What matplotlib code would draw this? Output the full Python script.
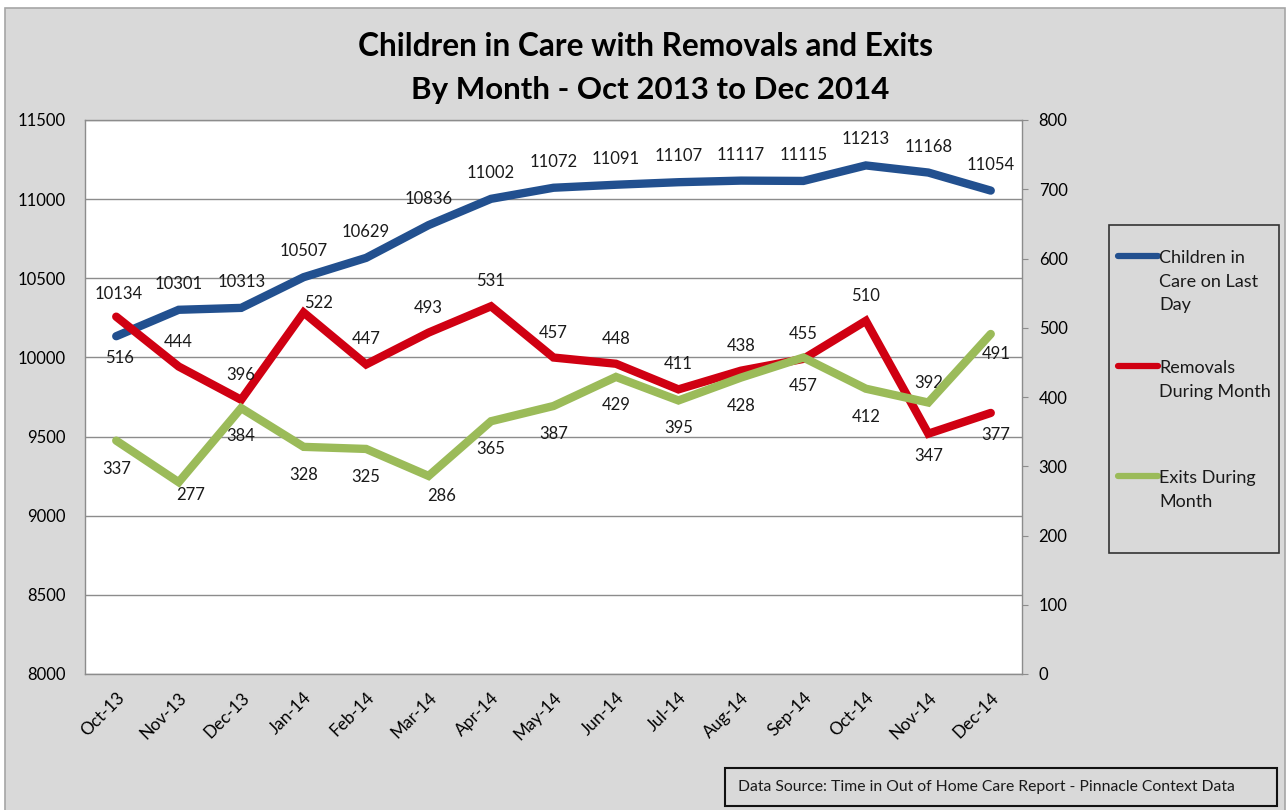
import matplotlib.pyplot as plt
from matplotlib.patches import Rectangle
from matplotlib.lines import Line2D

plt.rcParams['font.family'] = ['Lato', 'DejaVu Sans']

months = ['Oct-13', 'Nov-13', 'Dec-13', 'Jan-14', 'Feb-14', 'Mar-14', 'Apr-14',
          'May-14', 'Jun-14', 'Jul-14', 'Aug-14', 'Sep-14', 'Oct-14', 'Nov-14', 'Dec-14']
in_care = [10134, 10301, 10313, 10507, 10629, 10836, 11002, 11072,
           11091, 11107, 11117, 11115, 11213, 11168, 11054]
removals = [516, 444, 396, 522, 447, 493, 531, 457, 448, 411, 438, 455, 510, 347, 377]
exits = [337, 277, 384, 328, 325, 286, 365, 387, 429, 395, 428, 457, 412, 392, 491]

series_names = ['Children in\nCare on Last\nDay', 'Removals\nDuring Month', 'Exits During\nMonth']

BLUE = '#22508f'
RED = '#d00012'
GREEN = '#9bbb59'
BG = '#d9d9d9'

# label offsets in pixels (dx, dy), default above / below the point
care_off = [(0, 26)] * 15
care_off[0] = (2, 42)
rem_off = [(0, 25)] * 15
rem_off[0] = (3, -41)
rem_off[3] = (15, 10)
rem_off[13] = (0, -22)
rem_off[14] = (5, -22)
exit_off = [(0, -28)] * 15
exit_off[1] = (12, -13)
exit_off[5] = (13, -20)
exit_off[13] = (0, 20)
exit_off[14] = (5, -20)

W, H = 1287, 810
fig = plt.figure(figsize=(W / 100, H / 100), dpi=100, facecolor='white')

# chart area background and frame
fig.patches.append(Rectangle((5 / W, -0.01), (W - 7) / W, 1 - 8 / H + 0.01,
                             transform=fig.transFigure, facecolor=BG,
                             edgecolor='#a6a6a6', lw=1.2, zorder=-5))

ax = fig.add_axes([85 / W, 1 - 674 / H, (1022 - 85) / W, (674 - 120) / H])
ax2 = ax.twinx()
x = list(range(len(months)))

ax.set_facecolor('white')
ax.plot(x, in_care, color=BLUE, lw=6, solid_capstyle='round', solid_joinstyle='miter', zorder=3)
ax.set_ylim(8000, 11500)
ax.set_yticks(range(8000, 11501, 500))
ax.set_xlim(-0.5, len(months) - 0.5)
ax.set_xticks(x)
ax.set_xticklabels(months, rotation=45, ha='right', va='top', rotation_mode='anchor', fontsize=12.3)
ax.grid(axis='y', color='#8c8c8c', lw=1)
ax.set_axisbelow(True)
ax.tick_params(axis='y', length=0, labelsize=12, pad=14)
ax.tick_params(axis='x', length=0, pad=11)
for s in ax.spines.values():
    s.set_color('#8c8c8c')
    s.set_linewidth(1)

ax2.plot(x, removals, color=RED, lw=6, solid_capstyle='round', solid_joinstyle='miter', zorder=3)
ax2.plot(x, exits, color=GREEN, lw=6, solid_capstyle='round', solid_joinstyle='miter', zorder=4)
ax2.set_ylim(0, 800)
ax2.set_yticks(range(0, 801, 100))
ax2.tick_params(axis='y', length=4, color='#8c8c8c', labelsize=12, pad=8)
for s in ax2.spines.values():
    s.set_visible(False)

lbl = dict(textcoords='offset pixels', ha='center', va='center', fontsize=12, color='#1a1a1a')
for i in x:
    ax.annotate(str(in_care[i]), (i, in_care[i]), xytext=care_off[i], **lbl)
    ax2.annotate(str(removals[i]), (i, removals[i]), xytext=rem_off[i], **lbl)
    ax2.annotate(str(exits[i]), (i, exits[i]), xytext=exit_off[i], **lbl)

# title
fig.text(646 / W, 1 - 47 / H, 'Children in Care with Removals and Exits',
         ha='center', va='center', fontsize=22.8, fontweight='bold', color='black')
fig.text(650 / W, 1 - 90 / H, 'By Month - Oct 2013 to Dec 2014',
         ha='center', va='center', fontsize=22.5, fontweight='bold', color='black')

# legend box
fig.patches.append(Rectangle((1109 / W, 1 - 553 / H), 170 / W, 328 / H,
                             transform=fig.transFigure, facecolor='none',
                             edgecolor='#333333', lw=1.2))
for color, name, ytop in zip([BLUE, RED, GREEN], series_names, [256, 366, 476]):
    fig.lines.append(Line2D([1118 / W, 1158 / W], [1 - ytop / H] * 2, transform=fig.transFigure,
                            color=color, lw=4.5, solid_capstyle='round'))
    fig.text(1159 / W, 1 - (ytop - 6) / H, name, ha='left', va='top', fontsize=13,
             linespacing=1.58, color='#1a1a1a')

# source note
fig.patches.append(Rectangle((725 / W, 1 - 806 / H), 552 / W, 38 / H,
                             transform=fig.transFigure, facecolor='none',
                             edgecolor='#111111', lw=1.5))
fig.text(738 / W, 1 - 787 / H, 'Data Source: Time in Out of Home Care Report - Pinnacle Context Data',
         ha='left', va='center', fontsize=11.3, color='#1a1a1a')

fig.savefig('out.png', dpi=100, facecolor=fig.get_facecolor())
